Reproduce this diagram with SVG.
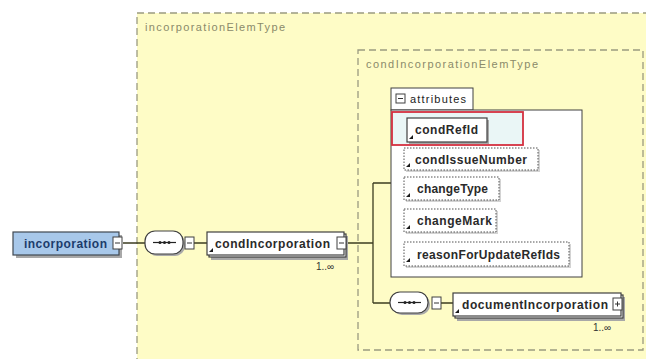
<svg xmlns="http://www.w3.org/2000/svg" width="646" height="359" viewBox="0 0 646 359">
<defs>
<style>
.type{fill:#fefcc6;stroke:#9a9a80;stroke-width:1.3;stroke-dasharray:7 4}
.tlabel{font-family:"Liberation Sans",Arial,sans-serif;font-size:11px;fill:#8a8a6a}
.el{fill:#ffffff;stroke:#404040;stroke-width:1.2}
.sh{fill:#a8a8a8}
.lbl{font-family:"Liberation Sans",Arial,sans-serif;font-size:12px;font-weight:bold;fill:#2a2a2a}
.att{fill:#ffffff;stroke:#505050;stroke-width:1;stroke-dasharray:1.5 1.5}
.box{fill:#ffffff;stroke:#404040;stroke-width:1}
.conn{fill:none;stroke:#3c3c20;stroke-width:1.3}
.mult{font-family:"Liberation Sans",Arial,sans-serif;font-size:10px;fill:#333}
.icon{fill:#1a1a1a}
</style>
</defs>
<rect width="646" height="359" fill="#ffffff"/>
<g id="incorporationElemType">
<rect class="type" x="137" y="13" width="520" height="360"/>
<text class="tlabel" x="145" y="31" textLength="140">incorporationElemType</text>
</g>
<g id="condIncorporationElemType">
<rect class="type" x="358" y="50" width="285" height="300"/>
<text class="tlabel" x="366" y="68" textLength="172">condIncorporationElemType</text>
</g>
<g id="connectors">
<path class="conn" d="M123 243H145M194 243H207M347 243H373M373 183V303M373 183H391M373 303H390M441 303H453"/>
</g>
<g id="incorporation">
<rect class="sh" x="16" y="235" width="106" height="23"/>
<rect x="13" y="232" width="106" height="23" fill="#a8c8ea" stroke="#404850" stroke-width="1.2"/>
<text x="24" y="247.5" class="lbl" style="fill:#1c3c6c" textLength="83">incorporation</text>
<rect class="box" x="113" y="237" width="9" height="12"/>
<path d="M115 243H120" stroke="#333" stroke-width="1"/>
</g>
<g id="sequence1">
<rect x="147" y="233" width="38" height="23" rx="10" fill="#aaa"/>
<rect x="145" y="231" width="38" height="23" rx="10" fill="#fff" stroke="#404040" stroke-width="1.2"/>
<path d="M153 242.5H176" stroke="#222" stroke-width="1.2"/>
<circle cx="160" cy="242.5" r="1.5" fill="#222"/><circle cx="164.5" cy="242.5" r="1.5" fill="#222"/><circle cx="169" cy="242.5" r="1.5" fill="#222"/>
<rect class="box" x="185" y="237" width="9" height="12"/>
<path d="M187 243H192" stroke="#333" stroke-width="1"/>
</g>
<g id="condIncorporation">
<rect class="sh" x="211" y="236" width="137" height="24"/>
<rect class="el" x="209" y="234" width="137" height="23"/>
<rect class="el" x="207" y="232" width="137" height="23"/>
<polygon class="icon" points="209,252 213,248 213,252"/>
<text class="lbl" x="215" y="247.5" textLength="115">condIncorporation</text>
<rect class="box" x="337" y="237" width="9" height="12"/>
<path d="M339 243H344" stroke="#333" stroke-width="1"/>
<text class="mult" x="316" y="270">1..∞</text>
</g>
<g id="attributes">
<rect class="box" x="391" y="88" width="82" height="22" stroke-width="1.2"/>
<rect class="box" x="396" y="94" width="9" height="9"/>
<path d="M398 98.5H403" stroke="#333" stroke-width="1"/>
<text x="410" y="103" font-family="Liberation Sans,Arial,sans-serif" font-size="11" fill="#222" textLength="56">attributes</text>
<rect class="box" x="391" y="110" width="191" height="167" stroke-width="1.2"/>
</g>
<g id="condRefId">
<rect x="392" y="112" width="131" height="33" fill="#eaf6f6" stroke="#d43040" stroke-width="1.8"/>
<rect class="sh" x="409" y="120" width="80" height="24"/>
<rect class="el" x="407" y="118" width="80" height="24"/>
<polygon class="icon" points="409,139 413,135 413,139"/>
<text class="lbl" x="415" y="134" textLength="63">condRefId</text>
</g>
<g id="condIssueNumber">
<rect class="sh" x="406" y="150" width="134" height="22" opacity="0.5"/>
<rect class="att" x="404" y="148" width="134" height="22"/>
<polygon class="icon" points="406,167 410,163 410,167"/>
<text class="lbl" x="415" y="163.5" textLength="112">condIssueNumber</text>
</g>
<g id="changeType">
<rect class="sh" x="406" y="179" width="95" height="23" opacity="0.5"/>
<rect class="att" x="404" y="177" width="95" height="23"/>
<polygon class="icon" points="406,197 410,193 410,197"/>
<text class="lbl" x="417" y="193" textLength="71">changeType</text>
</g>
<g id="changeMark">
<rect class="sh" x="406" y="211" width="92" height="23" opacity="0.5"/>
<rect class="att" x="404" y="209" width="92" height="23"/>
<polygon class="icon" points="406,229 410,225 410,229"/>
<text class="lbl" x="417" y="225" textLength="75">changeMark</text>
</g>
<g id="reasonForUpdateRefIds">
<rect class="sh" x="406" y="244" width="165" height="24" opacity="0.5"/>
<rect class="att" x="404" y="242" width="165" height="24"/>
<polygon class="icon" points="406,262 410,258 410,262"/>
<text class="lbl" x="417" y="258.5" textLength="143">reasonForUpdateRefIds</text>
</g>
<g id="sequence2">
<rect x="392" y="294" width="38" height="21" rx="10" fill="#aaa"/>
<rect x="390" y="292" width="38" height="21" rx="10" fill="#fff" stroke="#404040" stroke-width="1.2"/>
<path d="M398 302.5H421" stroke="#222" stroke-width="1.2"/>
<circle cx="405" cy="302.5" r="1.5" fill="#222"/><circle cx="409.5" cy="302.5" r="1.5" fill="#222"/><circle cx="414" cy="302.5" r="1.5" fill="#222"/>
<rect class="box" x="432" y="297" width="9" height="12"/>
<path d="M434 303H439" stroke="#333" stroke-width="1"/>
</g>
<g id="documentIncorporation">
<rect class="sh" x="457" y="297" width="168" height="24"/>
<rect class="el" x="455" y="295" width="168" height="23"/>
<rect class="el" x="453" y="293" width="168" height="23"/>
<polygon class="icon" points="455,313 459,309 459,313"/>
<text class="lbl" x="462" y="308.5" textLength="146">documentIncorporation</text>
<rect class="box" x="613" y="298" width="9" height="12"/>
<path d="M615 304H620M617.5 301.5V306.5" stroke="#333" stroke-width="1"/>
<text class="mult" x="593" y="331">1..∞</text>
</g>
</svg>
